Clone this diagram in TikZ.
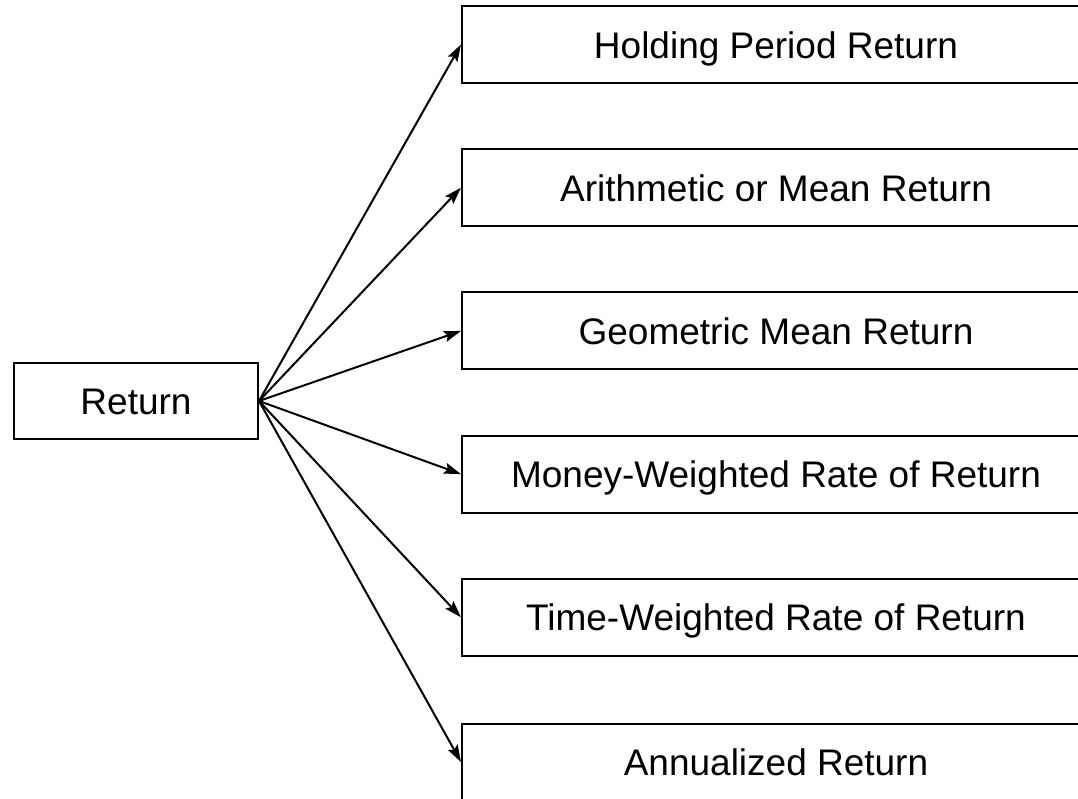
\documentclass[tikz,border=0pt]{standalone}
\usepackage{fontspec}
\setmainfont{Liberation Sans}
\usetikzlibrary{arrows.meta}
\begin{document}
\begin{tikzpicture}[x=1pt,y=-1pt,
  box/.style={draw=black, line width=2pt, fill=white, inner sep=0pt, text height=27pt, text depth=0pt, font=\fontsize{37}{44}\selectfont},
  rbox/.style={box, minimum width=628pt, minimum height=77pt, anchor=west},
  conn/.style={line width=2pt, -{Stealth[length=17pt,width=11pt,inset=3pt]}}]
\useasboundingbox (0,0) rectangle (1078,798);
\clip (0,0) rectangle (1078,798);
\fill[white] (0,0) rectangle (1078,798);
\node[box, minimum width=244pt, minimum height=76pt] (ret) at (136,401) {Return};
\node[rbox] (b1) at (461,44.5) {Holding Period Return};
\node[rbox] (b2) at (461,187.7) {Arithmetic or Mean Return};
\node[rbox] (b3) at (461,330.9) {Geometric Mean Return};
\node[rbox] (b4) at (461,474.1) {Money-Weighted Rate of Return};
\node[rbox] (b5) at (461,617.3) {Time-Weighted Rate of Return};
\node[rbox] (b6) at (461,762) {Annualized Return};
\foreach \b in {b1,b2,b3,b4,b5,b6}
  \draw[conn] (ret.east) -- (\b.west);
\end{tikzpicture}
\end{document}
